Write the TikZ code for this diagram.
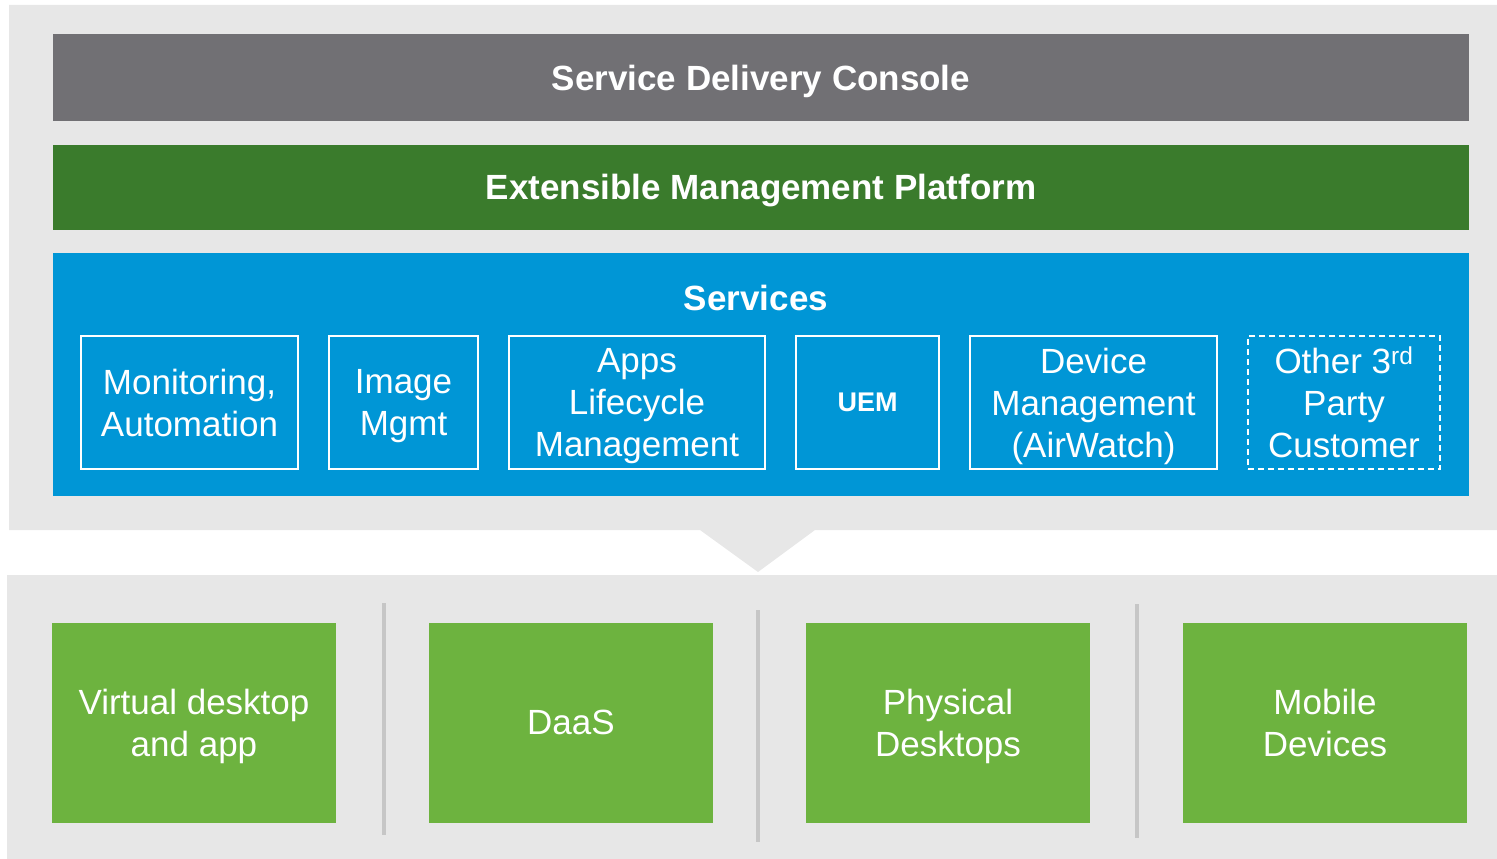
\documentclass[tikz,border=0pt]{standalone}
\usepackage{fontspec}
\setmainfont{Liberation Sans}
\usetikzlibrary{positioning}

\definecolor{panelgray}{HTML}{E7E7E7}
\definecolor{consolegray}{HTML}{717074}
\definecolor{platgreen}{HTML}{3A7B2C}
\definecolor{svcblue}{HTML}{0096D6}
\definecolor{tgtgreen}{HTML}{6DB33F}
\definecolor{divgray}{HTML}{C6C6C6}

\tikzset{
  bar/.style={fill=#1, text=white, minimum width=1416pt, inner sep=0pt,
    font=\fontsize{35}{42}\selectfont\bfseries, text depth=0pt},
  svcbox/.style={draw=white, line width=1.6pt, text=white, minimum height=133pt,
    inner sep=0pt, outer sep=0pt, align=center, text depth=0pt,
    font=\fontsize{35}{42}\selectfont},
  tgtbox/.style={fill=tgtgreen, text=white, minimum width=284pt, minimum height=200pt,
    inner sep=0pt, outer sep=0pt, align=center, text depth=0pt,
    font=\fontsize{35}{42}\selectfont},
  divider/.style={draw=divgray, line width=3.5pt}
}

\begin{document}
\begin{tikzpicture}[x=1pt, y=-1pt]

  \useasboundingbox (0,0) rectangle (1497,859);

  % Panels
  \fill[panelgray] (9,5) -- (1497,5) -- (1497,530) -- (815,530) -- (758,572)
    -- (700,530) -- (9,530) -- cycle;
  \fill[panelgray] (7,575) rectangle (1497,859);

  % Layers
  \node[bar=consolegray, minimum height=87pt] (console) at (761,77.5) {Service Delivery Console};
  \node[bar=platgreen, minimum height=85pt] (platform) at (761,187) {Extensible Management Platform};
  \node[fill=svcblue, minimum width=1416pt, minimum height=243pt, inner sep=0pt] (services) at (761,374.5) {};
  \node[text=white, font=\fontsize{35}{42}\selectfont\bfseries, inner sep=0pt] (svclabel) at (756,298) {Services};

  % Services
  \node[svcbox, minimum width=217pt] (mon) at (189.5,402.5) {Monitoring,\\Automation};
  \node[svcbox, minimum width=149pt, right=31pt of mon] (img) {Image\\Mgmt};
  \node[svcbox, minimum width=256pt, right=31pt of img] (apps) {Apps\\Lifecycle\\Management};
  \node[svcbox, minimum width=143pt, right=31pt of apps, font=\fontsize{27}{32}\selectfont\bfseries] (uem) {UEM};
  \node[svcbox, minimum width=247pt, right=31pt of uem] (dev) {Device\\Management\\(AirWatch)};
  \node[svcbox, minimum width=192pt, right=31pt of dev, dash pattern=on 6pt off 4pt] (other) {Other 3\textsuperscript{rd}\\Party\\Customer};

  % Targets
  \node[tgtbox] (vdi) at (194,722.5) {Virtual desktop\\and app};
  \node[tgtbox, right=93pt of vdi] (daas) {DaaS};
  \node[tgtbox, right=93pt of daas] (phys) {Physical\\Desktops};
  \node[tgtbox, right=93pt of phys] (mobile) {Mobile\\Devices};

  % Dividers
  \draw[divider] (384,603) -- (384,835);
  \draw[divider] (758,610) -- (758,842);
  \draw[divider] (1137,604) -- (1137,838);

\end{tikzpicture}
\end{document}
